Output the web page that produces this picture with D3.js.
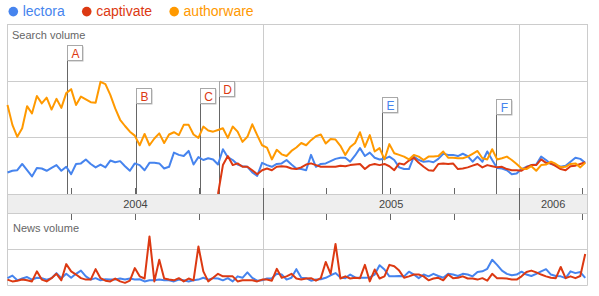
<!DOCTYPE html>
<html>
<head>
<meta charset="utf-8">
<script src="https://cdn.jsdelivr.net/npm/d3@7"></script>
<style>
	body { margin: 0; background: #fff; }
	svg { display: block; font-family: Arial, 'Liberation Sans', sans-serif; }
</style>
</head>
<body>
<script>
// ---------------------------- DATA ----------------------------
const seriesNames = ['lectora', 'captivate', 'authorware'];
const seriesColors = ['#4684ee', '#dc3912', '#ff9900'];

// weekly points, first week starts 2004-01-01
const firstWeek = new Date(2004, 0, 1);
const lastDay = new Date(2006, 3, 10);

const lectoraSearch = [
	0.38, 0.41, 0.42, 0.53, 0.42, 0.31, 0.46, 0.45, 0.41, 0.46, 0.51, 0.41, 0.48, 0.35, 0.53, 0.54, 0.61, 0.53, 0.47, 0.52,
	0.47, 0.59, 0.56, 0.58, 0.49, 0.41, 0.54, 0.51, 0.42, 0.55, 0.55, 0.54, 0.45, 0.48, 0.73, 0.69, 0.67, 0.76, 0.52, 0.65,
	0.60, 0.63, 0.61, 0.52, 0.79, 0.65, 0.60, 0.52, 0.49, 0.48, 0.38, 0.32, 0.55, 0.51, 0.48, 0.53, 0.54, 0.60, 0.52, 0.45,
	0.44, 0.42, 0.69, 0.48, 0.53, 0.54, 0.58, 0.62, 0.64, 0.64, 0.57, 0.68, 0.81, 0.67, 0.73, 0.64, 0.61, 0.62, 0.66, 0.60,
	0.47, 0.44, 0.44, 0.66, 0.60, 0.57, 0.58, 0.56, 0.62, 0.71, 0.69, 0.69, 0.67, 0.71, 0.67, 0.57, 0.66, 0.57, 0.75, 0.60,
	0.46, 0.45, 0.42, 0.35, 0.36, 0.44, 0.48, 0.51, 0.52, 0.66, 0.60, 0.53, 0.51, 0.48, 0.50, 0.57, 0.64, 0.62, 0.55,
];

const captivateSearch = [
	null, null, null, null, null, null, null, null, null, null, null, null, null, null, null, null, null, null, null, null,
	null, null, null, null, null, null, null, null, null, null, null, null, null, null, null, null, null, null, null, null,
	null, null, null, 0, 0.51, 0.67, 0.51, 0.54, 0.48, 0.48, 0.42, 0.35, 0.42, 0.45, 0.42, 0.48, 0.49, 0.48, 0.45, 0.44,
	0.47, 0.52, 0.54, 0.51, 0.48, 0.48, 0.48, 0.48, 0.50, 0.49, 0.51, 0.52, 0.53, 0.44, 0.51, 0.53, 0.51, 0.53, 0.49, 0.42,
	0.54, 0.52, 0.59, 0.64, 0.55, 0.48, 0.42, 0.41, 0.53, 0.54, 0.53, 0.54, 0.44, 0.45, 0.47, 0.50, 0.53, 0.47, 0.51, 0.49,
	0.47, 0.48, 0.44, 0.42, 0.42, 0.41, 0.47, 0.51, 0.51, 0.61, 0.55, 0.54, 0.49, 0.44, 0.42, 0.49, 0.50, 0.53, 0.56,
];

const authorwareSearch = [
	1.57, 1.22, 1.01, 1.16, 1.55, 1.42, 1.73, 1.60, 1.70, 1.49, 1.68, 1.52, 1.78, 1.85, 1.57, 1.72, 1.67, 1.62, 1.61, 1.98,
	1.94, 1.75, 1.51, 1.31, 1.20, 1.10, 1.03, 0.86, 1.06, 0.86, 0.98, 1.07, 0.90, 1.05, 1.09, 1.04, 1.22, 1.22, 1.05, 0.99,
	1.19, 1.12, 1.10, 1.13, 1.16, 0.99, 1.19, 1.10, 0.92, 1.01, 1.23, 1.04, 0.86, 0.82, 0.61, 0.78, 0.70, 0.67, 0.76, 0.82,
	0.90, 0.86, 0.95, 1.02, 1.05, 0.89, 0.97, 0.96, 0.85, 0.69, 0.83, 0.90, 1.09, 0.83, 1.04, 0.75, 0.81, 0.61, 0.88, 0.72,
	0.69, 0.66, 0.61, 0.69, 0.66, 0.60, 0.66, 0.66, 0.67, 0.75, 0.64, 0.64, 0.63, 0.63, 0.66, 0.71, 0.76, 0.63, 0.61, 0.79,
	0.61, 0.63, 0.66, 0.60, 0.53, 0.45, 0.44, 0.49, 0.41, 0.51, 0.52, 0.57, 0.53, 0.47, 0.48, 0.53, 0.54, 0.47, 0.55,
];

const lectoraNews = [
	0.19, 0.26, 0.13, 0.18, 0.22, 0.15, 0.20, 0.19, 0.15, 0.19, 0.33, 0.19, 0.31, 0.20, 0.31, 0.40, 0.24, 0.15, 0.19, 0.13,
	0.16, 0.15, 0.15, 0.18, 0.15, 0.18, 0.15, 0.16, 0.10, 0.13, 0.13, 0.15, 0.13, 0.13, 0.10, 0.15, 0.13, 0.10, 0.13, 0.15,
	0.20, 0.15, 0.19, 0.18, 0.13, 0.19, 0.10, 0.24, 0.20, 0.35, 0.20, 0.12, 0.13, 0.18, 0.19, 0.31, 0.29, 0.15, 0.20, 0.44,
	0.20, 0.19, 0.12, 0.15, 0.16, 0.20, 0.27, 0.33, 0.21, 0.19, 0.29, 0.21, 0.20, 0.20, 0.21, 0.29, 0.55, 0.43, 0.24, 0.24,
	0.25, 0.24, 0.37, 0.29, 0.19, 0.29, 0.24, 0.31, 0.25, 0.20, 0.31, 0.29, 0.25, 0.31, 0.29, 0.24, 0.36, 0.38, 0.45, 0.70,
	0.56, 0.40, 0.31, 0.27, 0.29, 0.37, 0.29, 0.25, 0.31, 0.38, 0.44, 0.29, 0.25, 0.24, 0.19, 0.38, 0.33, 0.36, 0.20,
];

const captivateNews = [
	0.15, 0.10, 0.12, 0.15, 0.13, 0.10, 0.38, 0.15, 0.10, 0.19, 0.31, 0.13, 0.58, 0.38, 0.29, 0.19, 0.15, 0.15, 0.44, 0.19,
	0.12, 0.10, 0.18, 0.10, 0.06, 0.12, 0.47, 0.24, 0.18, 1.35, 0.10, 0.70, 0.18, 0.15, 0.13, 0.19, 0.10, 0.18, 0.13, 1.07,
	0.38, 0.10, 0.20, 0.31, 0.24, 0.24, 0.24, 0.10, 0.13, 0.13, 0.13, 0.10, 0.15, 0.15, 0.12, 0.45, 0.20, 0.24, 0.31, 0.18,
	0.15, 0.18, 0.19, 0.12, 0.19, 0.64, 0.31, 1.14, 0.18, 0.24, 0.18, 0.20, 0.19, 0.56, 0.10, 0.43, 0.18, 0.24, 0.56, 0.52,
	0.40, 0.20, 0.24, 0.29, 0.29, 0.24, 0.13, 0.18, 0.20, 0.13, 0.29, 0.19, 0.20, 0.24, 0.18, 0.18, 0.15, 0.19, 0.12, 0.31,
	0.19, 0.19, 0.18, 0.15, 0.15, 0.24, 0.36, 0.40, 0.35, 0.29, 0.24, 0.20, 0.19, 0.50, 0.19, 0.24, 0.19, 0.25, 0.86,
];

const pinLetters = ['A', 'B', 'C', 'D', 'E', 'F'];
const pinDates = ['2004-03-26', '2004-07-03', '2004-10-02', '2004-10-30', '2005-06-20', '2005-11-29'];
const pinSeries = ['captivate', 'captivate', 'captivate', 'captivate', 'lectora', 'lectora'];
const pinTops = [45, 88, 88, 81, 97, 99]; // layout only: stacking height of the flags

// ---------------------------- LAYOUT ----------------------------
const width = 599;
const height = 296;
const left = 7.5;
const right = 587.5;
const searchTop = 24;
const searchBottom = 194;
const bandBottom = 213;
const newsBottom = 285;
const grid = '#cccccc';
const tickColor = '#666666';

const color = d3.scaleOrdinal().domain(seriesNames).range(seriesColors);
const weeks = lectoraSearch.map((d, i) => d3.timeDay.offset(firstWeek, 7 * i));

const x = d3.scaleTime().domain([firstWeek, lastDay]).range([left, right + 0.5]);
const ySearch = d3.scaleLinear().domain([0, 3]).range([searchBottom, searchTop]);
const yNews = d3.scaleLinear().domain([0, 2]).range([newsBottom, bandBottom]);
const crisp = (v) => Math.round(v) + 0.5;

const svg = d3.select('body').append('svg').attr('width', width).attr('height', height);

// ---------------------------- LEGEND ----------------------------
const legend = svg.append('g');
let lx = 13.3;
seriesNames.forEach((name) => {
	legend.append('circle').attr('cx', lx).attr('cy', 11.6).attr('r', 4.8).attr('fill', color(name));
	const t = legend
		.append('text')
		.attr('x', lx + 9.4)
		.attr('y', 16.2)
		.attr('font-size', 14)
		.attr('fill', color(name))
		.text(name);
	lx = lx + 9.4 + t.node().getComputedTextLength() + 22;
});

// ---------------------------- FRAMES & GRID ----------------------------
const yearStarts = x.ticks(d3.timeYear).filter((d) => +d > +firstWeek);
const quarters = x.ticks(d3.timeMonth.every(3)).filter((d) => d.getMonth() !== 0);

// search frame
svg.append('rect')
	.attr('x', left).attr('y', searchTop + 0.5)
	.attr('width', right - left).attr('height', searchBottom - searchTop)
	.attr('fill', 'none').attr('stroke', grid);

svg.append('g')
	.selectAll('line')
	.data([1, 2])
	.join('line')
	.attr('x1', left).attr('x2', right)
	.attr('y1', (d) => crisp(ySearch(d))).attr('y2', (d) => crisp(ySearch(d)))
	.attr('stroke', grid);

svg.append('g')
	.selectAll('line')
	.data(yearStarts)
	.join('line')
	.attr('x1', (d) => crisp(x(d))).attr('x2', (d) => crisp(x(d)))
	.attr('y1', searchTop).attr('y2', searchBottom)
	.attr('stroke', grid);

// news frame
svg.append('path')
	.attr('d', `M${left},${bandBottom}V${newsBottom + 0.5}H${right}V${bandBottom}`)
	.attr('fill', 'none').attr('stroke', grid);

svg.append('line')
	.attr('x1', left).attr('x2', right)
	.attr('y1', crisp(yNews(1))).attr('y2', crisp(yNews(1)))
	.attr('stroke', grid);

svg.append('g')
	.selectAll('line')
	.data(yearStarts)
	.join('line')
	.attr('x1', (d) => crisp(x(d))).attr('x2', (d) => crisp(x(d)))
	.attr('y1', bandBottom).attr('y2', newsBottom)
	.attr('stroke', grid);

svg.append('text').attr('x', 12).attr('y', 39).attr('font-size', 11).attr('fill', '#666').text('Search volume');
svg.append('text').attr('x', 13).attr('y', 232).attr('font-size', 11).attr('fill', '#666').text('News volume');

// ---------------------------- LINES ----------------------------
const searchLine = d3
	.line()
	.defined((d) => d != null)
	.x((d, i) => x(weeks[i]))
	.y((d) => ySearch(d));

const newsLine = d3
	.line()
	.x((d, i) => x(weeks[i]))
	.y((d) => yNews(d));

const searchData = [
	['lectora', lectoraSearch],
	['captivate', captivateSearch],
	['authorware', authorwareSearch],
];
const newsData = [
	['lectora', lectoraNews],
	['captivate', captivateNews],
];

// pins behind the lines
const pins = svg.append('g');

svg.append('g')
	.selectAll('path')
	.data(searchData)
	.join('path')
	.attr('d', (d) => searchLine(d[1]))
	.attr('fill', 'none')
	.attr('stroke', (d) => color(d[0]))
	.attr('stroke-width', 2)
	.attr('stroke-linejoin', 'round');

svg.append('g')
	.selectAll('path')
	.data(newsData)
	.join('path')
	.attr('d', (d) => newsLine(d[1]))
	.attr('fill', 'none')
	.attr('stroke', (d) => color(d[0]))
	.attr('stroke-width', 2)
	.attr('stroke-linejoin', 'round');

// ---------------------------- TIME AXIS BAND ----------------------------
svg.append('rect')
	.attr('x', left).attr('y', searchBottom + 0.5)
	.attr('width', right - left).attr('height', bandBottom - searchBottom)
	.attr('fill', '#eeeeee').attr('stroke', grid);

const ticks = svg.append('g').attr('stroke', tickColor);
quarters.forEach((d) => {
	const tx = crisp(x(d));
	ticks.append('line').attr('x1', tx).attr('x2', tx).attr('y1', searchBottom - 6).attr('y2', searchBottom);
	ticks.append('line').attr('x1', tx).attr('x2', tx).attr('y1', bandBottom + 1).attr('y2', bandBottom + 7);
});
yearStarts.forEach((d) => {
	const tx = crisp(x(d));
	ticks.append('line').attr('x1', tx).attr('x2', tx).attr('y1', searchBottom - 6).attr('y2', bandBottom + 7);
});

const yearRanges = x.ticks(d3.timeYear).map((d) => [d, d3.timeYear.offset(d, 1)]);
svg.append('g')
	.selectAll('text')
	.data(yearRanges)
	.join('text')
	.attr('x', (d) => (x(d[0]) + Math.min(x(d[1]), right)) / 2)
	.attr('y', 207.5)
	.attr('text-anchor', 'middle')
	.attr('font-size', 11)
	.attr('fill', '#444')
	.text((d) => d3.timeFormat('%Y')(d[0]));

// ---------------------------- PINS ----------------------------
pinLetters.forEach((letter, i) => {
	const px = crisp(x(new Date(pinDates[i] + 'T00:00')));
	const top = pinTops[i] + 0.5;
	pins.append('line')
		.attr('x1', px).attr('x2', px)
		.attr('y1', top + 15).attr('y2', searchBottom)
		.attr('stroke', '#666');
	pins.append('rect')
		.attr('x', px + 1).attr('y', top + 1)
		.attr('width', 15).attr('height', 15)
		.attr('fill', '#bbb');
	pins.append('rect')
		.attr('x', px).attr('y', top)
		.attr('width', 15).attr('height', 15)
		.attr('fill', '#fff').attr('stroke', '#a8a8a8');
	pins.append('text')
		.attr('x', px + 8).attr('y', top + 12)
		.attr('text-anchor', 'middle')
		.attr('font-size', 12)
		.attr('fill', color(pinSeries[i]))
		.text(letter);
});
</script>
</body>
</html>
